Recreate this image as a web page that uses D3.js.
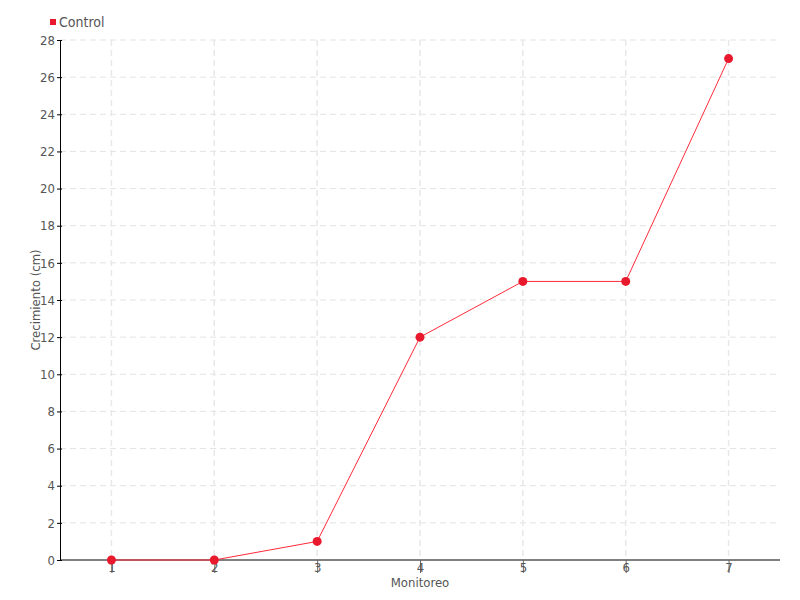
<!DOCTYPE html>
<html>
<head>
<meta charset="utf-8">
<script src="https://cdn.jsdelivr.net/npm/d3@7"></script>
<style>
  body { margin: 0; background: #fff; }
  text { font-family: "DejaVu Sans Condensed", "Liberation Sans Narrow", "DejaVu Sans", sans-serif; font-stretch: condensed; fill: #555; }
</style>
</head>
<body>
<div id="chart"></div>
<script>
const monitoreo = [1, 2, 3, 4, 5, 6, 7];
const control = [0, 0, 1, 12, 15, 15, 27];
const yTicks = [0, 2, 4, 6, 8, 10, 12, 14, 16, 18, 20, 22, 24, 26, 28];

const width = 800, height = 600;
const margin = { top: 40, right: 20, bottom: 40, left: 60 };

const svg = d3.select('#chart').append('svg')
    .attr('width', width)
    .attr('height', height);

const x = d3.scalePoint()
    .domain(monitoreo)
    .range([margin.left, width - margin.right])
    .padding(0.5);

const y = d3.scaleLinear()
    .domain([0, 28])
    .range([height - margin.bottom, margin.top]);

// grid
svg.append('g').selectAll('line')
    .data(yTicks.slice(1))
    .enter().append('line')
    .attr('x1', margin.left).attr('x2', width - margin.right)
    .attr('y1', d => y(d)).attr('y2', d => y(d))
    .attr('stroke', '#e3e3e3')
    .attr('stroke-dasharray', '6,4');

svg.append('g').selectAll('line')
    .data(monitoreo)
    .enter().append('line')
    .attr('x1', d => x(d)).attr('x2', d => x(d))
    .attr('y1', margin.top).attr('y2', height - margin.bottom)
    .attr('stroke', '#e8e8e8')
    .attr('stroke-width', 1.5)
    .attr('stroke-dasharray', '6,4');

// y axis
const yAxis = svg.append('g')
    .attr('transform', 'translate(' + margin.left + ',0)')
    .call(d3.axisLeft(y).tickValues(yTicks).tickSize(3).tickSizeOuter(0));
yAxis.select('.domain').attr('stroke', '#000');
yAxis.selectAll('.tick line').attr('stroke', '#000').attr('x2', 2).attr('x1', -3);
yAxis.selectAll('.tick text').attr('x', -5).style('font-size', '13px');

// x axis
const xAxis = svg.append('g')
    .attr('transform', 'translate(0,' + (height - margin.bottom) + ')')
    .call(d3.axisBottom(x).tickSize(13).tickSizeOuter(0));
xAxis.select('.domain').attr('stroke', '#000').attr('d', 'M' + margin.left + ',0H' + (width - margin.right));
xAxis.selectAll('.tick line').attr('stroke', '#666');
xAxis.selectAll('.tick text').attr('y', 3).attr('dy', '0.71em').style('font-size', '13px');

// axis titles
svg.append('text')
    .attr('x', (margin.left + width - margin.right) / 2)
    .attr('y', 587)
    .attr('text-anchor', 'middle')
    .style('font-size', '13px')
    .text('Monitoreo');

svg.append('text')
    .attr('transform', 'translate(40,' + ((margin.top + height - margin.bottom) / 2) + ') rotate(-90)')
    .attr('text-anchor', 'middle')
    .style('font-size', '13px')
    .text('Crecimiento (cm)');

// line
const line = d3.line()
    .x((d, i) => x(monitoreo[i]))
    .y(d => y(d));

svg.append('path')
    .datum(control)
    .attr('fill', 'none')
    .attr('stroke', '#ff2a3a')
    .attr('stroke-width', 1)
    .attr('d', line);

svg.append('g').selectAll('circle')
    .data(control)
    .enter().append('circle')
    .attr('cx', (d, i) => x(monitoreo[i]))
    .attr('cy', d => y(d))
    .attr('r', 4.5)
    .attr('fill', '#e8192c');

// legend
svg.append('rect')
    .attr('x', 50).attr('y', 19)
    .attr('width', 6).attr('height', 6)
    .attr('fill', '#e8192c');
svg.append('text')
    .attr('x', 59).attr('y', 27)
    .style('font-size', '14px')
    .text('Control');
</script>
</body>
</html>
